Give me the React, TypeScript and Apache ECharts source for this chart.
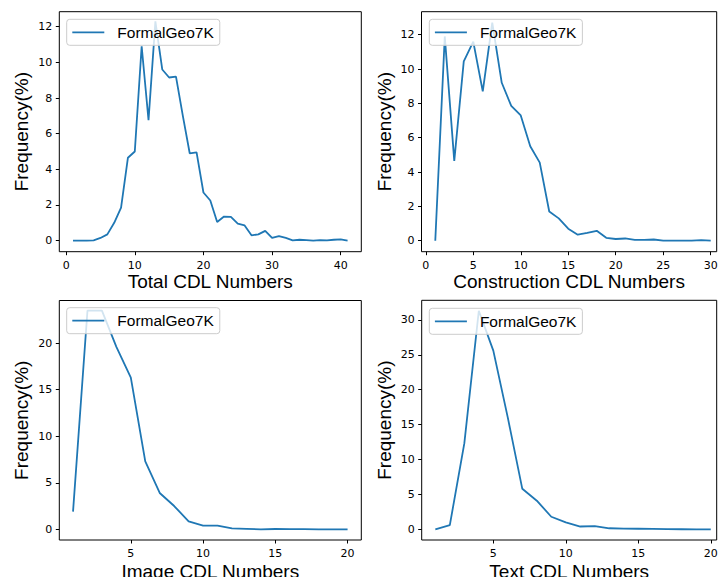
import React, { useEffect, useRef } from 'react';
import * as echarts from 'echarts';

const seriesName = 'FormalGeo7K';
const yAxisTitle = 'Frequency(%)';
const xAxisTitles = ['Total CDL Numbers', 'Construction CDL Numbers', 'Image CDL Numbers', 'Text CDL Numbers'];

const totalX = [1, 2, 3, 4, 5, 6, 7, 8, 9, 10, 11, 12, 13, 14, 15, 16, 17, 18, 19, 20, 21, 22, 23, 24, 25, 26, 27, 28, 29, 30, 31, 32, 33, 34, 35, 36, 37, 38, 39, 40, 41];
const totalFreq = [0, 0, 0, 0.02, 0.15, 0.35, 1.0, 1.85, 4.65, 5.0, 10.9, 6.75, 12.3, 9.6, 9.15, 9.2, 7.0, 4.9, 4.95, 2.7, 2.25, 1.05, 1.35, 1.33, 0.95, 0.85, 0.3, 0.35, 0.55, 0.15, 0.25, 0.15, 0.02, 0.05, 0.03, 0.0, 0.03, 0.02, 0.05, 0.07, 0.0];

const constructionX = [1, 2, 3, 4, 5, 6, 7, 8, 9, 10, 11, 12, 13, 14, 15, 16, 17, 18, 19, 20, 21, 22, 23, 24, 25, 26, 27, 28, 29, 30];
const constructionFreq = [0, 11.9, 4.65, 10.45, 11.6, 8.7, 12.7, 9.2, 7.85, 7.3, 5.5, 4.55, 1.7, 1.3, 0.7, 0.35, 0.45, 0.58, 0.17, 0.1, 0.13, 0.05, 0.05, 0.07, 0.0, 0.0, 0.0, 0.0, 0.03, 0.0];

const imageX = [1, 2, 3, 4, 5, 6, 7, 8, 9, 10, 11, 12, 13, 14, 15, 16, 17, 18, 19, 20];
const imageFreq = [1.9, 23.5, 23.5, 19.6, 16.3, 7.3, 3.9, 2.5, 0.85, 0.4, 0.4, 0.1, 0.05, 0.0, 0.03, 0.02, 0.01, 0.0, 0.0, 0.0];

const textX = [1, 2, 3, 4, 5, 6, 7, 8, 9, 10, 11, 12, 13, 14, 15, 16, 17, 18, 19, 20];
const textFreq = [0, 0.6, 12.3, 31.3, 25.6, 16.0, 5.8, 4.1, 1.8, 1.0, 0.4, 0.45, 0.15, 0.1, 0.08, 0.05, 0.02, 0.01, 0.0, 0.0];

const totalXTicks = [0, 10, 20, 30, 40];
const totalYTicks = [0, 2, 4, 6, 8, 10, 12];
const constructionXTicks = [0, 5, 10, 15, 20, 25, 30];
const constructionYTicks = [0, 2, 4, 6, 8, 10, 12];
const imageXTicks = [5, 10, 15, 20];
const imageYTicks = [0, 5, 10, 15, 20];
const textXTicks = [5, 10, 15, 20];
const textYTicks = [0, 5, 10, 15, 20, 25, 30];

const panels = [
  { xs: totalX, ys: totalFreq, xTicks: totalXTicks, yTicks: totalYTicks, xRange: [-1, 43], yRange: [-0.62, 12.84],
    grid: { left: 59.3, top: 11.7, width: 302, height: 240 }, legend: { left: 66.7, top: 19.3 }, xGap: 20 },
  { xs: constructionX, ys: constructionFreq, xTicks: constructionXTicks, yTicks: constructionYTicks, xRange: [-0.45, 30.63], yRange: [-0.64, 13.34],
    grid: { left: 421.5, top: 11.7, width: 295.2, height: 240 }, legend: { left: 429.3, top: 19.3 }, xGap: 20 },
  { xs: imageX, ys: imageFreq, xTicks: imageXTicks, yTicks: imageYTicks, xRange: [0.05, 20.95], yRange: [-1.15, 24.58],
    grid: { left: 59.3, top: 300.5, width: 302, height: 239.5 }, legend: { left: 66.7, top: 307.7 }, xGap: 22 },
  { xs: textX, ys: textFreq, xTicks: textXTicks, yTicks: textYTicks, xRange: [0.06, 20.41], yRange: [-1.53, 32.8],
    grid: { left: 421.7, top: 300.3, width: 295, height: 239.7 }, legend: { left: 429.3, top: 308.3 }, xGap: 22 },
];

const tickFont = { fontFamily: 'DejaVu Sans', fontSize: 11, color: '#000' };
const nameFont = { fontFamily: 'Liberation Sans', fontSize: 19, color: '#000' };

export default function App() {
  const ref = useRef<HTMLDivElement>(null);
  useEffect(() => {
    if (!ref.current) return;
    const chart = echarts.init(ref.current, null, { renderer: 'svg' });
    const option: any = {
      animation: false,
      backgroundColor: '#fff',
      grid: panels.map((p) => ({
        ...p.grid, show: true, borderColor: '#000', borderWidth: 1, backgroundColor: 'transparent',
        containLabel: false, outerBoundsMode: 'none',
      })),
      xAxis: panels.map((p, i) => ({
        type: 'value', gridIndex: i, min: p.xRange[0], max: p.xRange[1],
        name: xAxisTitles[i], nameLocation: 'middle', nameGap: p.xGap, nameTextStyle: nameFont,
        axisLine: { show: false, onZero: false },
        axisTick: { show: true, length: 3.5, lineStyle: { color: '#000', width: 1 }, customValues: p.xTicks },
        axisLabel: { ...tickFont, margin: 8, customValues: p.xTicks },
        splitLine: { show: false },
      })),
      yAxis: panels.map((p, i) => ({
        type: 'value', gridIndex: i, min: p.yRange[0], max: p.yRange[1],
        name: yAxisTitle, nameLocation: 'middle', nameGap: 28, nameRotate: 90, nameTextStyle: nameFont,
        axisLine: { show: false, onZero: false },
        axisTick: { show: true, length: 3.5, lineStyle: { color: '#000', width: 1 }, customValues: p.yTicks },
        axisLabel: { ...tickFont, margin: 7, customValues: p.yTicks },
        splitLine: { show: false },
      })),
      legend: panels.map((p) => ({
        show: true, data: [seriesName], left: p.legend.left, top: p.legend.top, orient: 'horizontal',
        icon: 'rect', itemWidth: 32, itemHeight: 1.8, padding: [5, 6, 5, 5.6],
        itemStyle: { color: '#1f77b4' },
        backgroundColor: 'rgba(255,255,255,0.8)', borderColor: '#cccccc', borderWidth: 1, borderRadius: 3,
        textStyle: { fontFamily: 'Liberation Sans', fontSize: 15.5, color: '#000', padding: [0, 0, 0, 8] },
        selectedMode: false,
      })),
      series: panels.map((p, i) => ({
        name: seriesName, type: 'line', xAxisIndex: i, yAxisIndex: i,
        data: p.xs.map((x, k) => [x, p.ys[k]]),
        symbol: 'none', showSymbol: false,
        lineStyle: { color: '#1f77b4', width: 1.8 }, itemStyle: { color: '#1f77b4' },
      })),
    };
    chart.setOption(option);
    return () => chart.dispose();
  }, []);
  return <div ref={ref} style={{ position: 'absolute', left: 0, top: 0, width: 718, height: 577 }} />;
}
